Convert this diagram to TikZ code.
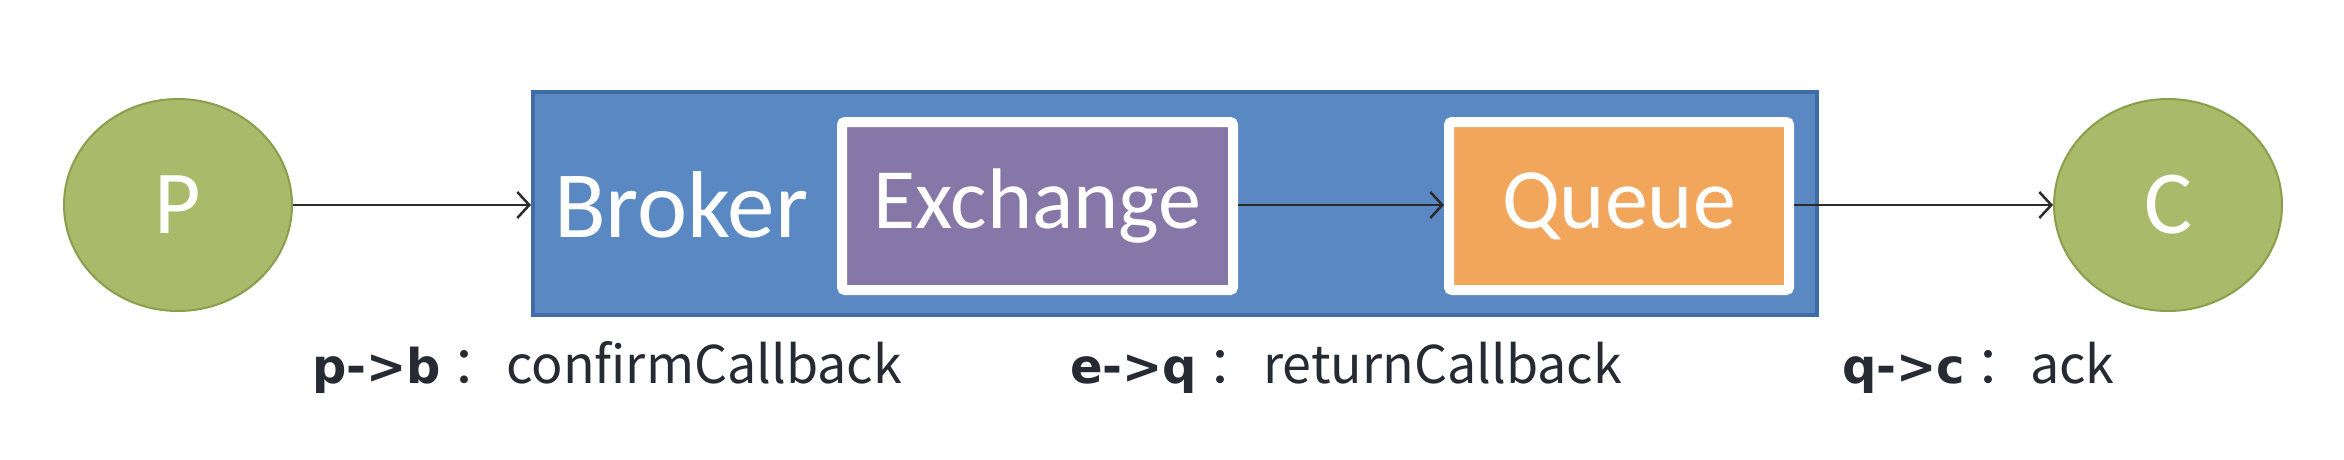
\documentclass[tikz,border=0pt]{standalone}
\usepackage{fontspec}
\setmainfont{Carlito}
\newfontfamily\cjk{Noto Sans CJK SC}
\newfontfamily\boldlbl{DejaVu Sans Bold}
\usetikzlibrary{shapes.geometric,arrows.meta}
\definecolor{olive}{HTML}{A9BB6A}
\definecolor{olivedark}{HTML}{8A9E4C}
\definecolor{brokerblue}{HTML}{5A88C2}
\definecolor{brokerdark}{HTML}{3F6CA6}
\definecolor{exchpurple}{HTML}{8677A9}
\definecolor{queueorange}{HTML}{F2A65B}
\definecolor{arrowgray}{HTML}{2B2B2B}
\definecolor{labeltext}{HTML}{262A33}
\newcommand{\cbhead}[2]{\makebox[#1pt][l]{{\boldlbl\fontsize{48}{58}\selectfont #2}\hspace{10pt}：}}
\tikzset{
  endpoint/.style={ellipse, fill=olive, draw=olivedark, line width=2pt,
    minimum width=228pt, minimum height=212pt, inner sep=0pt,
    text=white, font=\fontsize{90}{100}\selectfont},
  innerbox/.style={rectangle, rounded corners=3pt, draw=white, line width=10pt,
    minimum height=168pt, inner sep=0pt, text=white,
    font=\fontsize{86}{96}\selectfont},
  flow/.style={draw=arrowgray, line width=2.5pt, -{Straight Barb[length=12pt,width=26pt,line width=2.5pt]}},
  cblabel/.style={anchor=base west, inner sep=0pt, text=labeltext,
    font=\cjk\fontsize{52}{62}\selectfont}
}
\begin{document}
\begin{tikzpicture}[x=1pt,y=-1pt]
\useasboundingbox[fill=white] (0,0) rectangle (2344,460);
\node[endpoint] (P) at (178,205) {P};
\node[endpoint] (C) at (2168,205) {C};
\node[rectangle, fill=brokerblue, draw=brokerdark, line width=4pt,
  minimum width=1284pt, minimum height=223pt, inner sep=0pt] (broker) at (1175,203.5) {};
\node[anchor=west, inner sep=0pt, text=white, font=\fontsize{95}{100}\selectfont]
  (brokertext) at (554,205) {Broker};
\node[innerbox, fill=exchpurple, minimum width=391pt] (exch) at (1037.5,206) {Exchange};
\node[innerbox, fill=queueorange, minimum width=340pt] (queue) at (1619,206) {Queue};
\draw[flow] (P.east) -- (P.east -| broker.west);
\draw[flow] (exch.east |- P.east) -- (queue.west |- P.east);
\draw[flow] (queue.east |- P.east) -- (C.west);
\node[cblabel] (l1) at (312,383) {\cbhead{194}{p->b}confirmCallback};
\node[cblabel] (l2) at (1070,383) {\cbhead{193}{e->q}returnCallback};
\node[cblabel] (l3) at (1842,383) {\cbhead{188}{q->c}ack};
\end{tikzpicture}
\end{document}
